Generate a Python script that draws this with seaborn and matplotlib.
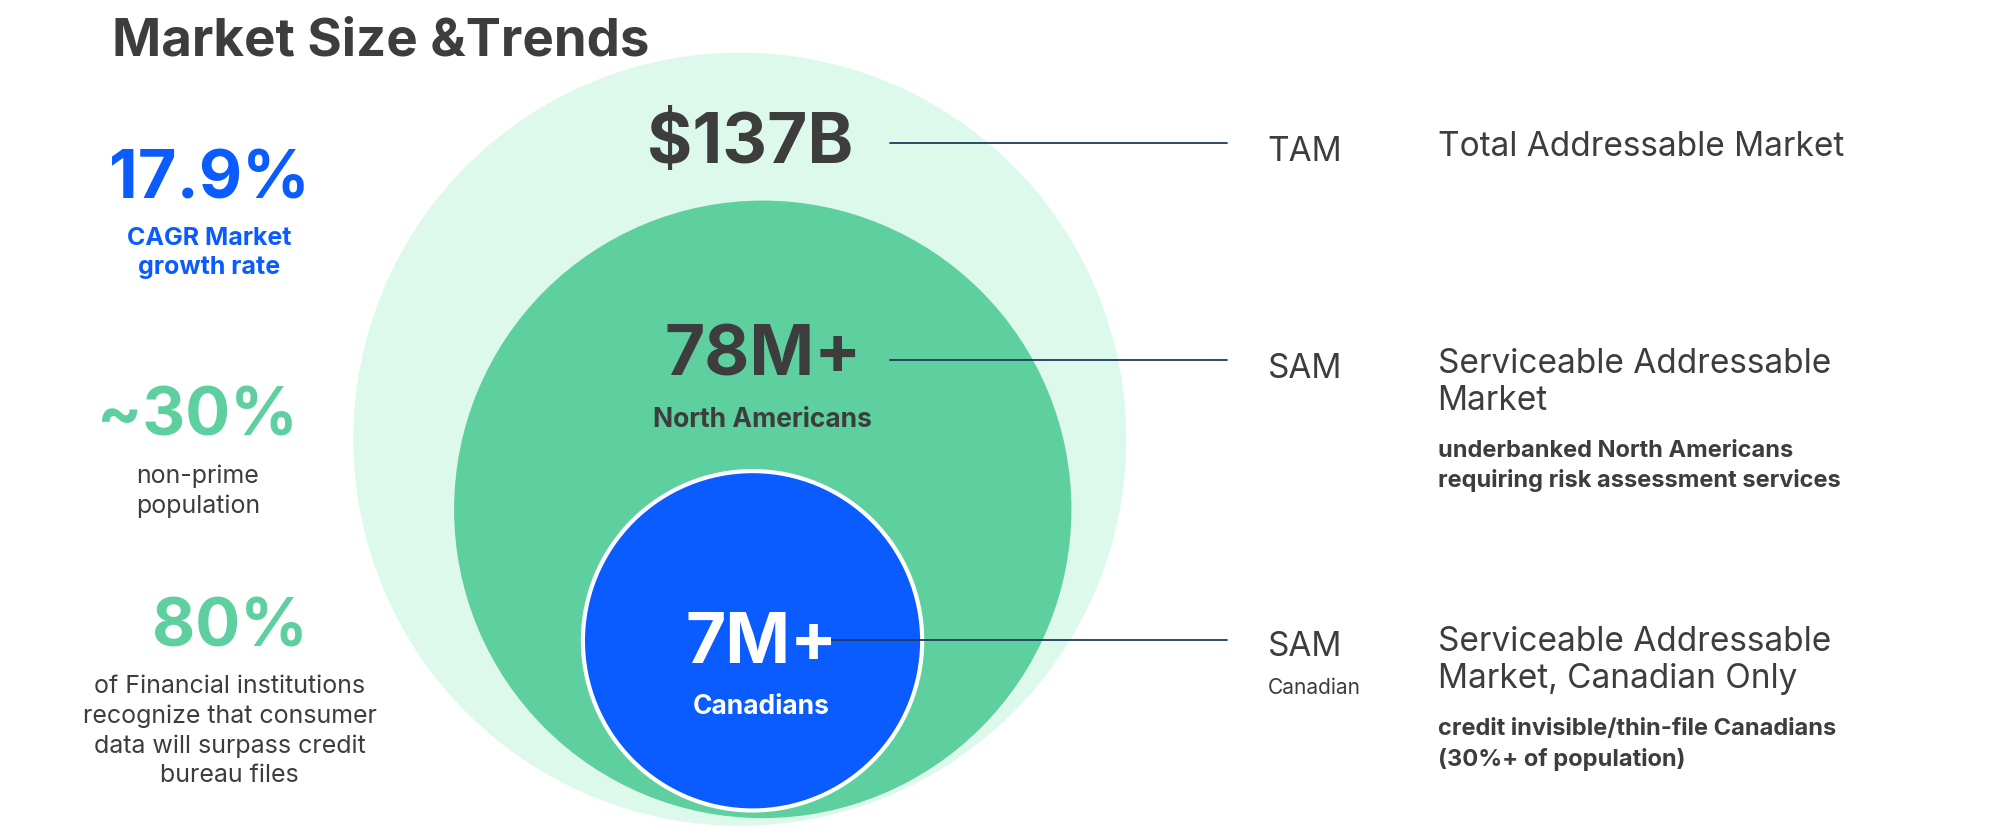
import matplotlib.pyplot as plt
from matplotlib.patches import Circle
import seaborn as sns

sns.set_theme(style="white")
plt.rcParams['font.family'] = ['Inter', 'Open Sans', 'DejaVu Sans']

# circles: TAM, SAM, SAM Canadian (image coords, y down)
circle_names = ['TAM', 'SAM', 'SAM Canadian']
circle_cx = [580, 598, 590]
circle_cy = [345, 400, 503]
circle_r = [303, 242, 133]
circle_colors = ['#dcf9ec', '#5ecf9f', '#0a5cff']

big_values = ['$137B', '78M+', '7M+']
big_sub = ['', 'North Americans', 'Canadians']
value_y = [113, 280, 505]
line_start = [698, 698, 640]
line_y = [113, 283, 502]

side_stats = ['17.9%', '~30%', '80%']
side_text = ['CAGR Market\ngrowth rate', 'non-prime\npopulation',
             'of Financial institutions\nrecognize that consumer\ndata will surpass credit\nbureau files']
side_colors = ['#0a5cff', '#5ecf9f', '#5ecf9f']

right_tags = ['TAM', 'SAM', 'SAM']
right_titles = ['Total Addressable Market', 'Serviceable Addressable\nMarket',
                'Serviceable Addressable\nMarket, Canadian Only']
right_notes = ['', 'underbanked North Americans\nrequiring risk assessment services',
               'credit invisible/thin-file Canadians\n(30%+ of population)']

dark = '#3d3d3d'
fig = plt.figure(figsize=(20, 8.37), dpi=100)
ax = fig.add_axes([0, 0, 1, 1])
ax.set_xlim(0, 1568)
ax.set_ylim(656, 0)
ax.axis('off')

for i in range(3):
    ax.add_patch(Circle((circle_cx[i], circle_cy[i]), circle_r[i], facecolor=circle_colors[i],
                        edgecolor='white' if i == 2 else 'none', lw=3, zorder=i + 1))

txt_col = [dark, dark, 'white']
val_x = [588, 598, 597]
for i in range(3):
    ax.plot([line_start[i], 962], [line_y[i], line_y[i]], color='#1f3a5f', lw=1.3, zorder=5)
    ax.text(val_x[i], value_y[i], big_values[i], ha='center', va='center', fontsize=50,
            fontweight='bold', color=txt_col[i], zorder=6)
    if big_sub[i]:
        ax.text(val_x[i], value_y[i] + 49, big_sub[i], ha='center', va='center', fontsize=19,
                fontweight='bold', color=txt_col[i], zorder=6)

ax.text(88, 33, 'Market Size &Trends', ha='left', va='center', fontsize=38,
        fontweight='bold', color=dark)

stat_y = [142, 328, 493]
stat_x = [164, 155, 180]
for i in range(3):
    ax.text(stat_x[i], stat_y[i], side_stats[i], ha='center', va='center', fontsize=48,
            fontweight='bold', color=side_colors[i])
    ax.text(stat_x[i], stat_y[i] + 36, side_text[i], ha='center', va='top', fontsize=18,
            fontweight='bold' if i == 0 else 'normal',
            color=side_colors[0] if i == 0 else dark, linespacing=1.35)

tag_y = [119, 289, 507]
for i in range(3):
    ax.text(994, tag_y[i], right_tags[i], ha='left', va='center', fontsize=24, color=dark)
    ax.text(1127, tag_y[i] - 16, right_titles[i], ha='left', va='top', fontsize=24,
            color=dark, linespacing=1.2)
    if right_notes[i]:
        ax.text(1127, tag_y[i] + 56, right_notes[i], ha='left', va='top', fontsize=17,
                fontweight='bold', color=dark, linespacing=1.4)
ax.text(994, 539, 'Canadian', ha='left', va='center', fontsize=15, color=dark)

fig.savefig('out.png', dpi=100)
